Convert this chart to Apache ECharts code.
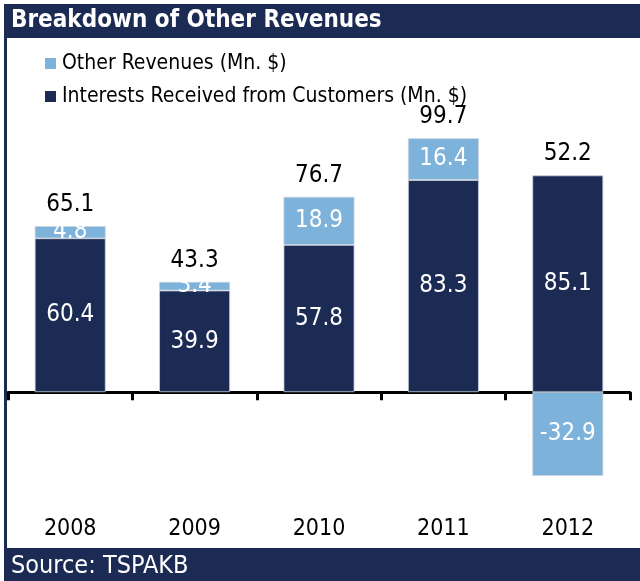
<!DOCTYPE html>
<html>
<head>
<meta charset="utf-8">
<script src="https://cdn.jsdelivr.net/npm/echarts@6/dist/echarts.min.js"></script>
<style>
html,body{margin:0;padding:0;background:#fff;}
#c{width:640px;height:581px;}
</style>
</head>
<body>
<div id="c"></div>
<script>
const categories = ['2008', '2009', '2010', '2011', '2012'];
const interests = [60.4, 39.9, 57.8, 83.3, 85.1];
const otherRevenues = [4.8, 3.4, 18.9, 16.4, -32.9];
const totals = [65.1, 43.3, 76.7, 99.7, 52.2];

const NAVY = '#1c2b54';
const LIGHT = '#7db3da';
const FONT = '"DejaVu Sans Condensed", "DejaVu Sans", sans-serif';

// label anchor: top of the positive stack
const totalAnchor = interests.map((v, i) => Math.max(v, 0) + Math.max(otherRevenues[i], 0));

const chart = echarts.init(document.getElementById('c'), null, {renderer: 'canvas'});
chart.setOption({
  animation: false,
  textStyle: {fontFamily: FONT},
  graphic: [
    {type: 'rect', shape: {x: 4, y: 4, width: 636, height: 34}, style: {fill: NAVY}, silent: true},
    {type: 'text', left: 11, top: 9, style: {text: 'Breakdown of Other Revenues', fill: '#fff', font: 'bold 24px ' + FONT}},
    {type: 'rect', shape: {x: 4, y: 38, width: 3, height: 512}, style: {fill: NAVY}, silent: true},
    {type: 'rect', shape: {x: 4, y: 548, width: 636, height: 33}, style: {fill: NAVY}, silent: true},
    {type: 'text', left: 11, top: 554, style: {text: 'Source: TSPAKB', fill: '#fff', font: '25px ' + FONT}}
  ],
  legend: {
    orient: 'vertical',
    left: 40,
    top: 48,
    itemWidth: 11,
    itemHeight: 11,
    itemGap: 12,
    icon: 'rect',
    itemStyle: {borderWidth: 0},
    data: ['Other Revenues (Mn. $)', 'Interests Received from Customers (Mn. $)'],
    textStyle: {fontSize: 21, color: '#000', fontFamily: FONT, padding: [0, 0, 0, 1]}
  },
  grid: {left: 8, right: 10, top: 112, bottom: 87, containLabel: false},
  xAxis: [
    {
      type: 'category',
      data: categories,
      axisLine: {show: false, onZero: false},
      axisTick: {show: false},
      axisLabel: {fontSize: 23, color: '#000', margin: 24, fontFamily: FONT}
    },
    {
      type: 'category',
      data: categories,
      position: 'bottom',
      axisLine: {show: true, onZero: true, lineStyle: {color: '#000', width: 3}},
      axisTick: {show: true, length: 8, lineStyle: {color: '#000', width: 3}},
      axisLabel: {show: false}
    }
  ],
  yAxis: {
    type: 'value',
    min: -40,
    max: 110,
    show: false,
    splitLine: {show: false}
  },
  series: [
    {
      name: 'Interests Received from Customers (Mn. $)',
      type: 'bar',
      stack: 'a',
      xAxisIndex: 0,
      barWidth: '57%',
      data: interests,
      itemStyle: {color: NAVY, borderColor: '#c9d1dd', borderWidth: 0.8},
      label: {show: true, position: 'inside', color: '#fff', fontSize: 24, fontFamily: FONT}
    },
    {
      name: 'Other Revenues (Mn. $)',
      type: 'bar',
      stack: 'a',
      xAxisIndex: 0,
      barWidth: '57%',
      data: otherRevenues,
      itemStyle: {color: LIGHT, borderColor: '#c9d1dd', borderWidth: 0.8},
      label: {show: true, position: 'inside', color: '#fff', fontSize: 24, fontFamily: FONT}
    },
    {
      name: 'totals',
      type: 'scatter',
      xAxisIndex: 0,
      symbolSize: 1,
      itemStyle: {color: 'rgba(0,0,0,0)', opacity: 1},
      data: totalAnchor,
      silent: true,
      label: {
        show: true,
        position: 'top',
        distance: 9,
        color: '#000',
        fontSize: 24,
        fontFamily: FONT,
        formatter: p => totals[p.dataIndex].toFixed(1)
      }
    }
  ]
});
</script>
</body>
</html>
